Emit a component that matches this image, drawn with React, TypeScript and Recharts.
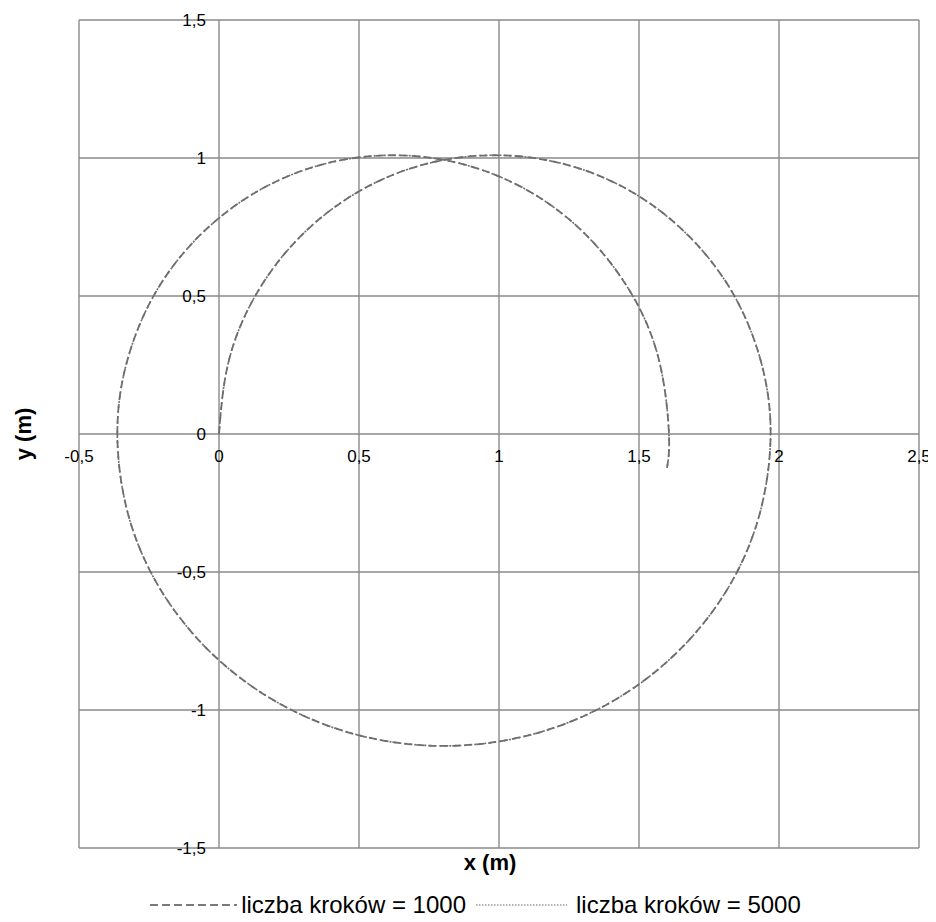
import React from 'react';
import { LineChart, Line, XAxis, YAxis, CartesianGrid, Legend, Label } from 'recharts';

// ---- data ----
const seriesNames = ['liczba kroków = 1000', 'liczba kroków = 5000'];
const xTicks = [-0.5, 0, 0.5, 1, 1.5, 2, 2.5];
const yTicks = [-1.5, -1, -0.5, 0, 0.5, 1, 1.5];

const steps1000X = [
  0, 0.034, 0.132, 0.289, 0.493, 0.73, 0.985, 1.24, 1.478, 1.681, 1.838, 1.936, 1.97,
  1.93, 1.814, 1.628, 1.387, 1.105, 0.803, 0.501, 0.22, -0.022, -0.208, -0.324, -0.363,
  -0.329, -0.231, -0.074, 0.13, 0.367, 0.622, 0.877, 1.115, 1.318, 1.475, 1.573, 1.607, 1.6,
];
const steps1000Y = [
  0, 0.261, 0.505, 0.714, 0.875, 0.976, 1.01, 0.976, 0.875, 0.714, 0.505, 0.261, 0,
  -0.293, -0.565, -0.799, -0.979, -1.092, -1.13, -1.092, -0.979, -0.799, -0.565, -0.293, 0,
  0.261, 0.505, 0.714, 0.875, 0.976, 1.01, 0.976, 0.875, 0.714, 0.505, 0.261, 0, -0.123,
];
const steps5000X = [
  0, 0.034, 0.132, 0.289, 0.493, 0.73, 0.985, 1.24, 1.478, 1.681, 1.838, 1.936, 1.97,
  1.93, 1.814, 1.628, 1.387, 1.105, 0.803, 0.501, 0.22, -0.022, -0.208, -0.324, -0.363,
  -0.329, -0.231, -0.074, 0.13, 0.367, 0.622, 0.877, 1.115, 1.318, 1.475, 1.573, 1.607, 1.6,
];
const steps5000Y = [
  0, 0.261, 0.505, 0.714, 0.875, 0.976, 1.01, 0.976, 0.875, 0.714, 0.505, 0.261, 0,
  -0.293, -0.565, -0.799, -0.979, -1.092, -1.13, -1.092, -0.979, -0.799, -0.565, -0.293, 0,
  0.261, 0.505, 0.714, 0.875, 0.976, 1.01, 0.976, 0.875, 0.714, 0.505, 0.261, 0, -0.123,
];

const data1000 = steps1000X.map((x, i) => ({ x, y: steps1000Y[i] }));
const data5000 = steps5000X.map((x, i) => ({ x, y: steps5000Y[i] }));

// ---- layout ----
const W = 928;
const H = 914;
const LEGEND_H = 28;
const MARGIN = { top: 12, right: 17, left: 0, bottom: 44 - LEGEND_H };
const Y_AXIS_W = 71;
const X_AXIS_H = 30;
const X_MIN = -0.5, X_MAX = 2.5, Y_MIN = -1.5, Y_MAX = 1.5;
const PLOT_L = MARGIN.left + Y_AXIS_W;
const PLOT_W = W - PLOT_L - MARGIN.right;
const PLOT_T = MARGIN.top;
const PLOT_H = H - MARGIN.top - MARGIN.bottom - X_AXIS_H - LEGEND_H;
const ZERO_X = PLOT_L + (PLOT_W * (0 - X_MIN)) / (X_MAX - X_MIN);
const ZERO_Y = PLOT_T + (PLOT_H * (Y_MAX - 0)) / (Y_MAX - Y_MIN);

const FONT = '"Liberation Sans", Arial, sans-serif';
const LINE_COLOR = '#6e6e6e';
const GRID_COLOR = '#8a8a8a';
const TICK_FS = 17;

const fmt = (v: number) => String(v).replace('.', ',');

const XTick = (props: any) => {
  const { x, payload } = props;
  return (
    <text x={x} y={ZERO_Y + 22} textAnchor="middle" dominantBaseline="central" fontSize={TICK_FS} fill="#000" fontFamily={FONT}>
      {fmt(payload.value)}
    </text>
  );
};

const YTick = (props: any) => {
  const { y, payload } = props;
  return (
    <text x={ZERO_X - 13} y={y} textAnchor="end" dominantBaseline="central" fontSize={TICK_FS} fill="#000" fontFamily={FONT}>
      {fmt(payload.value)}
    </text>
  );
};

const legendDash = ['8 4', '1.5 1.5'];
const legendColor = ['#7a7a7a', '#9a9a9a'];

const LegendContent = (props: any) => {
  const payload = props.payload || [];
  return (
    <div
      style={{
        display: 'flex',
        justifyContent: 'center',
        alignItems: 'center',
        fontSize: 24,
        fontFamily: FONT,
        color: '#000',
        paddingLeft: 7,
        lineHeight: '28px',
        whiteSpace: 'nowrap',
      }}
    >
      {payload.map((entry: any, i: number) => (
        <React.Fragment key={i}>
          <svg width={i === 0 ? 87 : 91} height={10} style={{ marginLeft: i === 0 ? 0 : 10 }}>
            <line
              x1={0}
              y1={5}
              x2={i === 0 ? 87 : 91}
              y2={5}
              stroke={legendColor[i]}
              strokeWidth={i === 0 ? 2 : 1.5}
              strokeDasharray={legendDash[i]}
            />
          </svg>
          <span style={{ marginLeft: i === 0 ? 4 : 9 }}>{entry.value}</span>
        </React.Fragment>
      ))}
    </div>
  );
};

export default function App() {
  return (
    <div style={{ width: W, height: H, background: '#fff' }}>
      <LineChart width={W} height={H} margin={MARGIN} style={{ fontFamily: FONT }}>
        <CartesianGrid stroke={GRID_COLOR} strokeWidth={1.4} />
        <XAxis
          type="number"
          dataKey="x"
          domain={[X_MIN, X_MAX]}
          ticks={xTicks}
          interval={0}
          allowDataOverflow
          axisLine={false}
          tickLine={false}
          height={X_AXIS_H}
          tick={<XTick />}
        >
          <Label
            content={() => (
              <text
                x={PLOT_L + PLOT_W / 2 - 9}
                y={PLOT_T + PLOT_H + 14}
                textAnchor="middle"
                dominantBaseline="central"
                fontWeight="bold"
                fontSize={22}
                fill="#000"
                fontFamily={FONT}
              >
                x (m)
              </text>
            )}
          />
        </XAxis>
        <YAxis
          type="number"
          dataKey="y"
          domain={[Y_MIN, Y_MAX]}
          ticks={yTicks}
          interval={0}
          allowDataOverflow
          axisLine={false}
          tickLine={false}
          width={Y_AXIS_W}
          tick={<YTick />}
        >
          <Label
            content={() => (
              <text
                x={15}
                y={ZERO_Y}
                transform={`rotate(-90 15 ${ZERO_Y})`}
                textAnchor="middle"
                dominantBaseline="central"
                fontWeight="bold"
                fontSize={22}
                fill="#000"
                fontFamily={FONT}
              >
                y (m)
              </text>
            )}
          />
        </YAxis>
        <Line
          data={data1000}
          dataKey="y"
          name={seriesNames[0]}
          type="natural"
          stroke={LINE_COLOR}
          strokeWidth={1.8}
          strokeDasharray="8 4"
          dot={false}
          activeDot={false}
          isAnimationActive={false}
        />
        <Line
          data={data5000}
          dataKey="y"
          name={seriesNames[1]}
          type="natural"
          stroke={LINE_COLOR}
          strokeWidth={1.6}
          strokeDasharray="2 3"
          dot={false}
          activeDot={false}
          isAnimationActive={false}
        />
        <Legend
          layout="vertical"
          align="center"
          verticalAlign="bottom"
          wrapperStyle={{ position: 'absolute', left: 0, top: 883, bottom: 'auto', width: W, height: LEGEND_H }}
          content={LegendContent}
        />
      </LineChart>
    </div>
  );
}
